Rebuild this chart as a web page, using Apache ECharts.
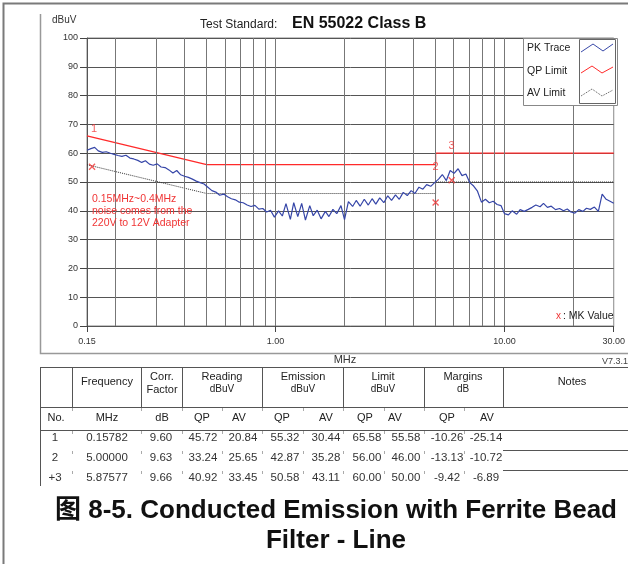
<!DOCTYPE html>
<html><head><meta charset="utf-8">
<script src="https://cdn.jsdelivr.net/npm/echarts@6/dist/echarts.min.js"></script>
<style>html,body{margin:0;padding:0;background:#fff}#c{width:628px;height:564px}</style>
</head><body><div id="c"></div>
<script>
// ---------- DATA ----------
const pkFreq = [0.150,0.156,0.162,0.168,0.175,0.182,0.190,0.197,0.205,0.213,
0.222,0.231,0.240,0.250,0.260,0.270,0.281,0.292,0.304,0.316,
0.329,0.342,0.356,0.370,0.385,0.400,0.416,0.433,0.450,0.468,
0.487,0.506,0.527,0.548,0.570,0.593,0.617,0.641,0.667,0.694,
0.722,0.751,0.781,0.812,0.845,0.879,0.914,0.950,0.988,1.03,
1.07,1.11,1.16,1.20,1.25,1.30,1.35,1.41,1.46,1.52,
1.58,1.65,1.71,1.78,1.85,1.93,2.00,2.08,2.17,2.25,
2.34,2.44,2.54,2.64,2.74,2.85,2.97,3.09,3.21,3.34,
3.47,3.61,3.76,3.91,4.06,4.23,4.40,4.57,4.76,4.95,
5.15,5.35,5.57,5.79,6.02,6.27,6.52,6.78,7.05,7.33,
7.62,7.93,8.25,8.58,8.92,9.28,9.65,10.0,10.4,10.8,
11.3,11.7,12.2,12.7,13.2,13.7,14.3,14.8,15.4,16.0,
16.7,17.4,18.1,18.8,19.5,20.3,21.1,22.0,22.8,23.7,
24.7,25.7,26.7,27.8,28.9,30.0];
const pkLevel = [61.0,61.6,62.0,60.8,60.3,60.5,60.0,59.6,59.2,58.9,
59.3,58.3,58.0,57.5,56.8,57.4,56.2,55.8,56.3,55.2,
55.0,54.2,53.1,54.0,52.5,52.0,51.6,51.0,50.3,49.8,
49.3,48.2,47.0,46.5,45.4,45.8,44.9,44.2,43.8,43.0,
42.8,42.0,41.5,41.9,40.6,40.8,39.6,40.2,37.8,40.0,
38.2,42.5,37.0,42.8,38.0,42.6,36.8,41.8,38.3,40.2,
37.2,39.8,38.0,40.5,39.0,41.8,36.9,43.2,41.5,43.6,
41.6,44.0,42.0,44.2,42.3,44.5,42.8,45.2,43.6,45.5,
44.0,46.4,45.3,47.0,46.0,48.2,47.5,49.1,48.5,49.8,
51.0,52.6,50.5,54.0,53.0,54.6,52.2,52.8,49.8,48.6,
46.8,43.0,44.0,42.8,43.3,42.2,41.8,39.0,38.6,40.0,
38.8,40.4,39.8,40.5,41.2,42.0,41.4,42.6,41.2,41.6,
40.4,40.8,40.0,40.6,39.6,39.2,40.4,39.8,40.9,40.5,
41.3,39.8,45.8,44.0,43.3,42.6];
const qpFreq = [0.15, 0.5, 5, 5, 30];
const qpLimit = [66, 56, 56, 60, 60];
const avFreq = [0.15, 0.5, 5, 5, 30];
const avLimit = [56, 46, 46, 50, 50];
const gridFreqs = [0.2,0.3,0.4,0.5,0.6,0.7,0.8,0.9,1,2,3,4,5,6,7,8,9,10,20];
const markerLabels = ['1','2','3'];

// table
const tNo = ['1','2','+3'];
const tFreq = ['0.15782','5.00000','5.87577'];
const tCorr = ['9.60','9.63','9.66'];
const tReadQP = ['45.72','33.24','40.92'];
const tReadAV = ['20.84','25.65','33.45'];
const tEmQP = ['55.32','42.87','50.58'];
const tEmAV = ['30.44','35.28','43.11'];
const tLimQP = ['65.58','56.00','60.00'];
const tLimAV = ['55.58','46.00','50.00'];
const tMarQP = ['-10.26','-13.13','-9.42'];
const tMarAV = ['-25.14','-10.72','-6.89'];

// ---------- CHART ----------
const chart = echarts.init(document.getElementById('c'), null, {renderer:'canvas'});
const FF = '"Liberation Sans", Arial, sans-serif';
const zip = (a,b) => a.map((v,i)=>[v,b[i]]);
const mkFreqNum = tFreq.map(Number);
const mkQP = tEmQP.map(Number);
const mkLim = tLimQP.map(Number);

const G = [];
function T(x,y,text,o){ o=o||{};
  G.push({type:'text', x:x, y:y, z:o.z||50, style:{text:text, fill:o.fill||'#222',
    font:(o.bold?'bold ':'')+(o.size||11)+'px '+(o.ff||FF),
    textAlign:o.align||'center', textVerticalAlign:'middle', align:o.align||'center', verticalAlign:'middle'}});
}
function L(x1,y1,x2,y2,c,w,z){ G.push({type:'line', z:z||40, shape:{x1:x1,y1:y1,x2:x2,y2:y2}, style:{stroke:c||'#555', lineWidth:w||1}}); }

// outer frame
G.push({type:'rect', z:1, shape:{x:3.5,y:3.5,width:700,height:700}, style:{fill:null, stroke:'#7a7a7a', lineWidth:2}});
// inner panel
G.push({type:'polyline', z:1, shape:{points:[[40.5,14],[40.5,353.5],[640,353.5]]}, style:{fill:null, stroke:'#999', lineWidth:1.5}});

// titles
T(52,20,'dBuV',{align:'left', size:10, fill:'#333'});
T(200,25,'Test Standard:',{align:'left', size:12, fill:'#222'});
T(292,24,'EN 55022 Class B',{align:'left', size:16, bold:true, fill:'#111'});
T(345,360,'MHz',{size:11, fill:'#333'});
T(628,362,'V7.3.1',{align:'right', size:9, fill:'#444'});

// annotation
T(92,199,'0.15MHz~0.4MHz',{align:'left', size:10.5, fill:'#f03434'});
T(92,211,'noise comes from the',{align:'left', size:10.5, fill:'#f03434'});
T(92,223,'220V to 12V Adapter',{align:'left', size:10.5, fill:'#f03434'});
T(556,316,'x',{align:'left', size:10, fill:'#f03434'});
T(563,316,': MK Value',{align:'left', size:10.5, fill:'#222'});

// legend box
G.push({type:'rect', z:90, shape:{x:523.5,y:38.5,width:94,height:67}, style:{fill:'#fff', stroke:'#888', lineWidth:1}});
G.push({type:'rect', z:91, shape:{x:579.5,y:39.5,width:36,height:64}, style:{fill:'#fff', stroke:'#666', lineWidth:1}});
T(527,48,'PK Trace',{align:'left', size:10.5, fill:'#222', z:92});
T(527,71,'QP Limit',{align:'left', size:10.5, fill:'#222', z:92});
T(527,93,'AV Limit',{align:'left', size:10.5, fill:'#222', z:92});
G.push({type:'polyline', z:92, shape:{points:[[581,52],[593,44],[603,51],[613,44]]}, style:{fill:null, stroke:'#3848a8', lineWidth:1}});
G.push({type:'polyline', z:92, shape:{points:[[581,73],[592,66],[602,73],[613,67]]}, style:{fill:null, stroke:'#ff2a2a', lineWidth:1}});
G.push({type:'polyline', z:92, shape:{points:[[581,96],[592,89],[602,96],[613,90]]}, style:{fill:null, stroke:'#555', lineWidth:1, lineDash:[1,1]}});

// table lines
const TL = '#555';
L(40,367.5,628,367.5,TL);
L(40.5,367,40.5,486,TL);
[72,141,182,262,343,424,503].forEach(x=>L(x+0.5,367,x+0.5,407,TL));
L(40,407.5,628,407.5,TL);
L(40,430.5,628,430.5,TL);
L(503,450.5,628,450.5,TL);
L(503,470.5,628,470.5,TL);
[72,141,182,222,262,303,343,384,424,464].forEach(x=>{[407,430,450,470].forEach(y=>L(x+0.5,y+1,x+0.5,y+4,'#aaa'));});

// table header
const HS = 11, HC = '#222';
T(107,382,'Frequency',{size:HS, fill:HC});
T(162,377,'Corr.',{size:HS, fill:HC}); T(162,390,'Factor',{size:HS, fill:HC});
T(222,377,'Reading',{size:HS, fill:HC}); T(222,389,'dBuV',{size:10, fill:HC});
T(303,377,'Emission',{size:HS, fill:HC}); T(303,389,'dBuV',{size:10, fill:HC});
T(383,377,'Limit',{size:HS, fill:HC}); T(383,389,'dBuV',{size:10, fill:HC});
T(463,377,'Margins',{size:HS, fill:HC}); T(463,389,'dB',{size:10, fill:HC});
T(572,382,'Notes',{size:HS, fill:HC});
T(56,418,'No.',{size:HS, fill:HC}); T(107,418,'MHz',{size:HS, fill:HC}); T(162,418,'dB',{size:HS, fill:HC});
[[202,'QP'],[239,'AV'],[282,'QP'],[326,'AV'],[365,'QP'],[395,'AV'],[447,'QP'],[487,'AV']].forEach(a=>T(a[0],418,a[1],{size:HS, fill:HC}));

// table body
const rowY = [438,458,478];
const cols = [[55,tNo],[107,tFreq],[161,tCorr],[203,tReadQP],[243,tReadAV],[285,tEmQP],[326,tEmAV],[367,tLimQP],[406,tLimAV],[447,tMarQP],[486,tMarAV]];
cols.forEach(c=>c[1].forEach((s,i)=>T(c[0],rowY[i],s,{size:11.5, fill:'#333'})));

// caption
T(336,511,'图 8-5. Conducted Emission with Ferrite Bead',{size:26, bold:true, fill:'#111', ff:'"Liberation Sans", "Noto Sans CJK SC", Arial, sans-serif'});
T(336,541,'Filter - Line',{size:26, bold:true, fill:'#111'});

const option = {
  animation:false,
  backgroundColor:'#fff',
  grid:{left:87, right:12, top:38, bottom:238, show:true, borderColor:'#888', borderWidth:1, backgroundColor:'#fff'},
  xAxis:{type:'log', logBase:10, min:0.15, max:30,
    axisLine:{show:true, lineStyle:{color:'#555'}},
    axisTick:{show:true, length:6, lineStyle:{color:'#444'}},
    axisLabel:{show:true, fontSize:9, color:'#333', fontFamily:FF, margin:11, showMinLabel:true, showMaxLabel:true,
      formatter:v=>Number(v).toFixed(2)},
    splitLine:{show:false}, minorSplitLine:{show:false}},
  yAxis:{type:'value', min:0, max:100, interval:10,
    axisLine:{show:true, lineStyle:{color:'#555'}},
    axisTick:{show:true, length:7, lineStyle:{color:'#444'}},
    axisLabel:{fontSize:9, color:'#333', fontFamily:FF, margin:9},
    splitLine:{show:true, lineStyle:{color:'#555', width:1}}},
  series:[
    {type:'line', data:[[0.15,0]], showSymbol:false, lineStyle:{opacity:0}, silent:true, z:1,
      markLine:{silent:true, symbol:['none','none'], label:{show:false}, animation:false,
        lineStyle:{color:'#777', width:1, type:'solid'},
        data:gridFreqs.map(f=>({xAxis:f}))}},
    {name:'AV Limit', type:'line', data:zip(avFreq,avLimit), showSymbol:false, z:3,
      lineStyle:{color:'#333', width:1, type:'dotted'}},
    {name:'QP Limit', type:'line', data:zip(qpFreq,qpLimit), showSymbol:false, z:4,
      lineStyle:{color:'#ff2a2a', width:1.3}},
    {name:'PK Trace', type:'line', data:zip(pkFreq,pkLevel), showSymbol:false, z:5,
      lineStyle:{color:'#3646a8', width:1.2}},
    {type:'scatter', z:6, symbol:'path://M0 0L10 10M10 0L0 10', symbolSize:6,
      itemStyle:{color:'none', borderColor:'#f03434', borderWidth:1.3},
      data:zip(mkFreqNum,mkQP)},
    {type:'scatter', z:6, symbolSize:0,
      data:zip(mkFreqNum,mkLim).map((d,i)=>({value:d,
        label:i===1?{position:'inside', offset:[0,2.5]}:{position:'top', distance:i===0?3:1.5, offset:i===0?[2,0]:[0,0]}})),
      label:{show:true, color:'#f03434', fontSize:11, fontFamily:FF, formatter:p=>markerLabels[p.dataIndex]}}
  ],
  graphic:{elements:G}
};
chart.setOption(option);
</script></body></html>
